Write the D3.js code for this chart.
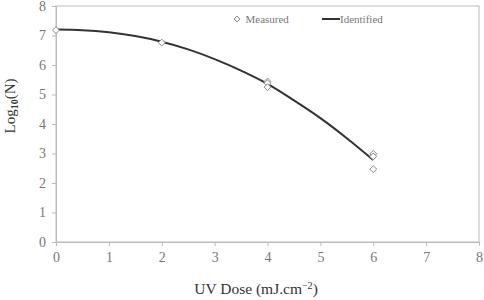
<!DOCTYPE html>
<html lang="en">
<head>
<meta charset="UTF-8">
<script src="https://d3js.org/d3.v7.min.js"></script>
<style>
  body { margin: 0; background: #fff; }
  text { font-family: "Liberation Serif", "Times New Roman", serif; }
  .axis text { fill: #777; font-size: 14px; }
  .axis path, .axis line { stroke: #bbb; }
</style>
</head>
<body>
<svg class="chart"></svg>
<script>

// measured points (UV dose, log10 N)
const measuredDose = [0, 2, 4, 4, 4, 6, 6, 6];
const measuredLog = [7.18, 6.76, 5.44, 5.38, 5.25, 2.99, 2.9, 2.47];

// identified model curve
const curveDose = [0, 0.5, 1, 1.5, 2, 2.5, 3, 3.5, 4, 4.5, 5, 5.5, 6];
const curveLog = [7.2, 7.18, 7.11, 6.98, 6.79, 6.53, 6.2, 5.81, 5.36, 4.8, 4.2, 3.52, 2.78];

const xTicks = [0, 1, 2, 3, 4, 5, 6, 7, 8];
const yTicks = [0, 1, 2, 3, 4, 5, 6, 7, 8];

const W = 484, H = 300;
const margin = {top: 6, right: 5, bottom: 58, left: 56},
    width = W - margin.left - margin.right,
    height = H - margin.top - margin.bottom;

let svg = d3.select(".chart")
    .attr("width", W)
    .attr("height", H)
  .append("g")
    .attr("transform", `translate(${margin.left},${margin.top})`);

let x = d3.scaleLinear().domain([0, 8]).range([0, width]);
let y = d3.scaleLinear().domain([0, 8]).range([height, 0]);

// plot frame
svg.append("rect")
    .attr("width", width)
    .attr("height", height)
    .attr("fill", "none")
    .attr("stroke", "#bbb");

svg.append("g")
    .attr("class", "x axis")
    .attr("transform", `translate(0,${height})`)
    .call(d3.axisBottom(x).tickValues(xTicks).tickSize(4).tickPadding(6).tickSizeOuter(0));

svg.append("g")
    .attr("class", "y axis")
    .call(d3.axisLeft(y).tickValues(yTicks).tickSize(4).tickPadding(6).tickSizeOuter(0));

// curve
const curve = curveDose.map((d, i) => [d, curveLog[i]]);
svg.append("path")
    .datum(curve)
    .attr("fill", "none")
    .attr("stroke", "#333")
    .attr("stroke-width", 2)
    .attr("d", d3.line().x(d => x(d[0])).y(d => y(d[1])).curve(d3.curveMonotoneX));

// measured diamonds
const diamond = d3.symbol().type(d3.symbolDiamond2).size(30);
svg.selectAll(".pt")
    .data(measuredDose.map((d, i) => [d, measuredLog[i]]))
    .enter().append("path")
      .attr("class", "pt")
      .attr("transform", d => `translate(${x(d[0])},${y(d[1])})`)
      .attr("d", diamond)
      .attr("fill", "#fff")
      .attr("stroke", "#888")
      .attr("stroke-width", 1);

// legend
let legend = svg.append("g").attr("transform", `translate(${-margin.left},${19 - margin.top})`);
legend.append("path")
    .attr("transform", "translate(237,0)")
    .attr("d", d3.symbol().type(d3.symbolDiamond2).size(22))
    .attr("fill", "#fff")
    .attr("stroke", "#888");
legend.append("text")
    .attr("x", 245.5).attr("y", 3.8)
    .attr("fill", "#777").style("font-size", "11px")
    .text("Measured");
legend.append("line")
    .attr("x1", 322).attr("x2", 340)
    .attr("stroke", "#333").attr("stroke-width", 2);
legend.append("text")
    .attr("x", 340).attr("y", 3.8)
    .attr("fill", "#777").style("font-size", "11px")
    .text("Identified");

// axis titles
let ylab = svg.append("text")
    .attr("transform", `translate(${15 - margin.left},${106 - margin.top}) rotate(-90)`)
    .attr("text-anchor", "middle")
    .attr("fill", "#333")
    .style("font-size", "15px");
ylab.append("tspan").text("Log");
ylab.append("tspan").attr("baseline-shift", "-25%").style("font-size", "10px").style("font-weight", "bold").text("10");
ylab.append("tspan").text("(N)");

let xlab = svg.append("text")
    .attr("x", 256 - margin.left)
    .attr("y", 294 - margin.top)
    .attr("text-anchor", "middle")
    .attr("fill", "#333")
    .style("font-size", "15.5px");
xlab.append("tspan").text("UV Dose (mJ.cm");
xlab.append("tspan").attr("baseline-shift", "super").style("font-size", "10px").text("\u22122");
xlab.append("tspan").text(")");

</script>
</body>
</html>
